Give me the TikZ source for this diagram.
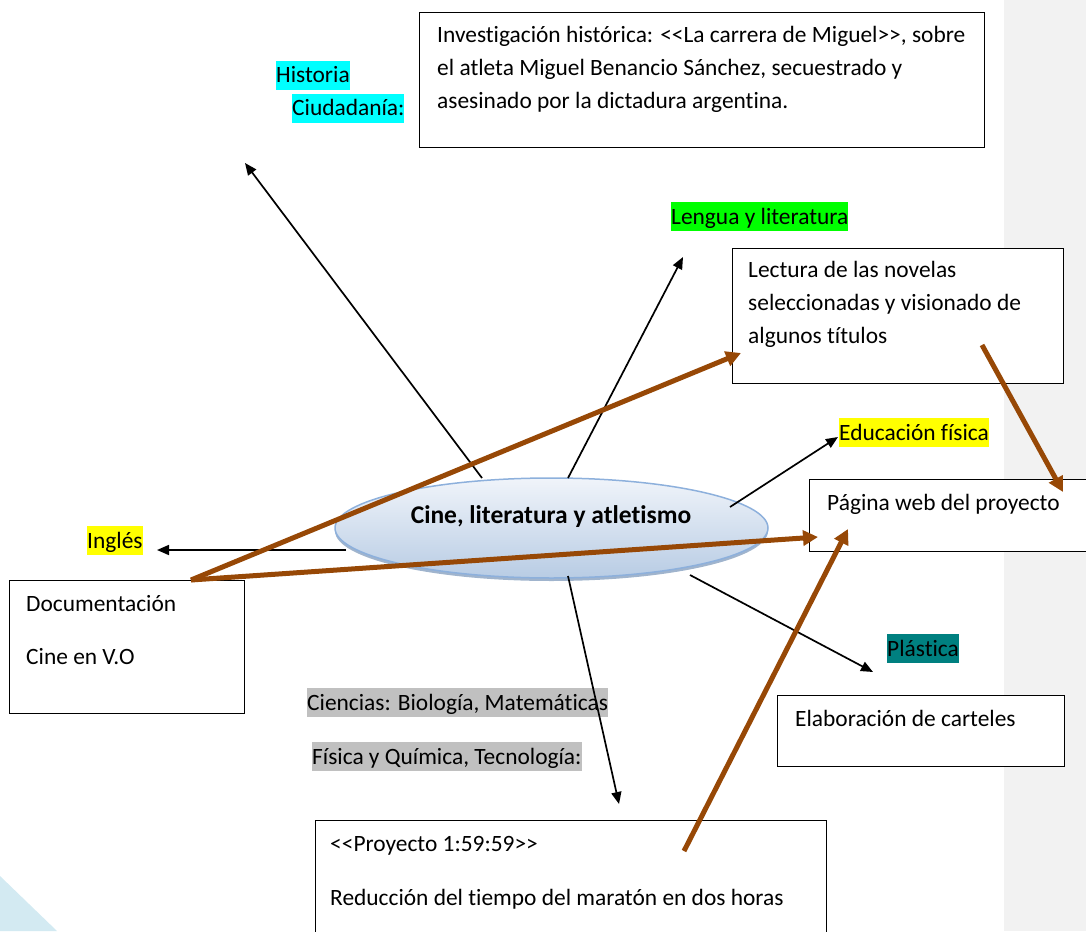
\documentclass[tikz,border=0pt]{standalone}
\usepackage{fontspec}
\setmainfont{Carlito}[Ligatures={NoCommon}]
\usetikzlibrary{arrows.meta,shapes.geometric}
\definecolor{brownarr}{RGB}{151,72,6}
\definecolor{panelgray}{RGB}{242,242,242}
\definecolor{cornerblue}{RGB}{211,234,242}
\definecolor{hlcyan}{RGB}{0,255,255}
\definecolor{hlgreen}{RGB}{0,255,0}
\definecolor{hlyellow}{RGB}{255,255,0}
\definecolor{hlteal}{RGB}{0,128,128}
\definecolor{hlgray}{RGB}{192,192,192}
\definecolor{ellborder}{RGB}{141,176,220}
\definecolor{elltop}{RGB}{240,244,250}
\definecolor{ellbottom}{RGB}{184,204,228}
\definecolor{ellshadow}{RGB}{160,180,205}
\newcommand{\dlt}{<\kern0pt<\kern0pt}
\newcommand{\dgt}{\kern0pt>\kern0pt>}
\tikzset{
  box/.style={draw=black, line width=1.4pt, fill=white, anchor=north west, inner sep=0pt},
  txt/.style={anchor=base west, inner sep=0pt},
  hl/.style={anchor=base west, inner xsep=0pt, inner ysep=0pt, text height=22pt, text depth=7pt, fill=#1},
  blackarrow/.style={draw=black, line width=1.7pt, -{Triangle[length=12pt,width=10pt]}},
  brownarrow/.style={draw=brownarr, line width=5pt, -{Triangle[length=15pt,width=15pt]}},
}
\begin{document}
\begin{tikzpicture}[x=1pt,y=-1pt,font=\fontsize{23.4}{33}\selectfont]
\useasboundingbox (0,0) rectangle (1086,931);
\clip (0,0) rectangle (1086,931);
% background elements
\fill[panelgray] (1004,0) rectangle (1086,931);
\fill[cornerblue] (0,876) -- (57,931) -- (0,931) -- cycle;

% boxes
\node[box, minimum width=565pt, minimum height=135pt] (invbox) at (419,12) {};
\node[txt] (inv1) at (437,43) {Investigación histórica: \dlt La carrera de Miguel\dgt, sobre};
\node[txt] (inv2) at (437,76) {el atleta Miguel Benancio Sánchez, secuestrado y};
\node[txt] (inv3) at (437,109) {asesinado por la dictadura argentina.};

\node[box, minimum width=331pt, minimum height=135pt] (lecbox) at (732,248) {};
\node[txt] (lec1) at (748,277) {Lectura de las novelas};
\node[txt] (lec2) at (748,310) {seleccionadas y visionado de};
\node[txt] (lec3) at (748,343) {algunos títulos};

\node[box, minimum width=300pt, minimum height=72pt] (webbox) at (809,479) {};
\node[txt] (web1) at (827,510) {Página web del proyecto};

\node[box, minimum width=287pt, minimum height=71pt] (cartbox) at (777,695) {};
\node[txt] (cart1) at (795,726) {Elaboración de carteles};

\node[box, minimum width=235pt, minimum height=133pt] (docbox) at (9,580) {};
\node[txt] (doc1) at (26,611) {Documentación};
\node[txt] (doc2) at (26,664) {Cine en V.O};

\node[box, minimum width=511pt, minimum height=140pt] (probox) at (315,820) {};
\node[txt] (pro1) at (330,851) {\dlt Proyecto 1:59:59\dgt};
\node[txt] (pro2) at (330,905) {Reducción del tiempo del maratón en dos horas};

% highlighted labels
\node[hl=hlcyan] (historia) at (276,83) {Historia};
\node[hl=hlcyan] (ciudadania) at (292,116) {Ciudadanía:};
\node[hl=hlgreen] (lengua) at (671,224) {Lengua y literatura};
\node[hl=hlyellow] (edfis) at (839,440) {Educación física};
\node[hl=hlyellow] (ingles) at (87,548) {Inglés};
\node[hl=hlteal] (plastica) at (887,656) {Plástica};
\node[hl=hlgray] (ciencias) at (307,710) {Ciencias: Biología, Matemáticas};
\node[hl=hlgray] (fisica) at (312,764) {Física y Química, Tecnología:};

% central ellipse
\fill[ellshadow] (551.5,531) ellipse [x radius=216.5pt, y radius=50pt];
\node[ellipse, draw=ellborder, line width=1.5pt, top color=elltop, bottom color=ellbottom,
      minimum width=433pt, minimum height=100pt, inner sep=0pt] (center) at (551.5,528) {};
\node[anchor=base, inner sep=0pt, font=\fontsize{25.5}{33}\selectfont\bfseries] (title) at (551,523) {Cine, literatura y atletismo};

% arrow endpoints
\coordinate (hisT) at (482,478); \coordinate (hisH) at (245,163);
\coordinate (lenT) at (568,478); \coordinate (lenH) at (683,257);
\coordinate (edfT) at (730,507); \coordinate (edfH) at (838,437);
\coordinate (ingT) at (346,550); \coordinate (ingH) at (157,550);
\coordinate (cieT) at (568,576); \coordinate (cieH) at (619,804);
\coordinate (plaT) at (690,575); \coordinate (plaH) at (873,672);

\draw[blackarrow] (hisT) -- (hisH);
\draw[blackarrow] (lenT) -- (lenH);
\draw[blackarrow] (edfT) -- (edfH);
\draw[blackarrow] (ingT) -- (ingH);
\draw[blackarrow] (cieT) -- (cieH);
\draw[blackarrow] (plaT) -- (plaH);

% brown arrows
\coordinate (docT) at (191,580);
\coordinate (lecH) at (741,353);
\coordinate (webH1) at (818,537);
\coordinate (lecT) at (982,345); \coordinate (webH2) at (1063,492);
\coordinate (proT) at (684,851); \coordinate (webH3) at (848,529);

\draw[brownarrow] (docT) -- (lecH);
\draw[brownarrow] (docT) -- (webH1);
\draw[brownarrow] (lecT) -- (webH2);
\draw[brownarrow] (proT) -- (webH3);
\end{tikzpicture}
\end{document}
